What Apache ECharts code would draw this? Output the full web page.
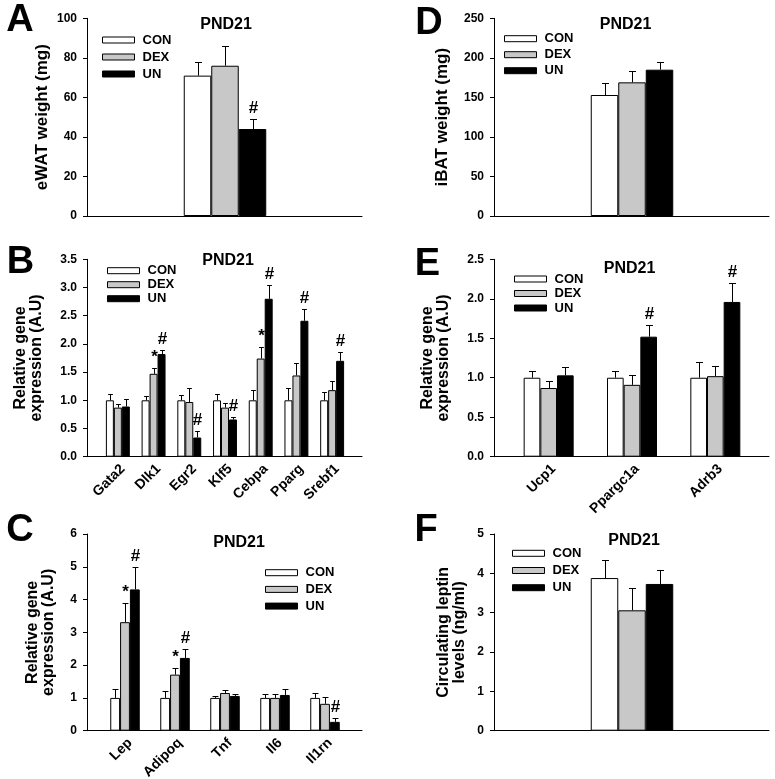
<!DOCTYPE html>
<html><head><meta charset="utf-8">
<script src="https://cdn.jsdelivr.net/npm/echarts@6/dist/echarts.min.js"></script>
<style>html,body{margin:0;padding:0;background:#fff}#c{width:775px;height:779px}</style>
</head><body><div id="c"></div>
<script>
const groups = ['CON', 'DEX', 'UN'];
const groupColors = ['#ffffff', '#c8c8c8', '#000000'];

// Panel A: eWAT weight (mg)
const catsA = ['eWAT'];
const aCon = [71], aDex = [76], aUn = [44];
const aConSem = [7], aDexSem = [10], aUnSem = [5];
const aSigCon = [''], aSigDex = [''], aSigUn = ['#'];
const ticksA = [0, 20, 40, 60, 80, 100];

// Panel D: iBAT weight (mg)
const catsD = ['iBAT'];
const dCon = [153], dDex = [169], dUn = [185];
const dConSem = [15], dDexSem = [14], dUnSem = [10];
const dSigCon = [''], dSigDex = [''], dSigUn = [''];
const ticksD = [0, 50, 100, 150, 200, 250];

// Panel B: adipogenic genes
const catsB = ['Gata2', 'Dlk1', 'Egr2', 'Klf5', 'Cebpa', 'Pparg', 'Srebf1'];
const bCon = [1.00, 1.00, 1.00, 1.00, 1.00, 1.00, 1.00];
const bDex = [0.87, 1.47, 0.97, 0.87, 1.74, 1.44, 1.18];
const bUn  = [0.89, 1.82, 0.34, 0.66, 2.80, 2.41, 1.70];
const bConSem = [0.11, 0.08, 0.10, 0.11, 0.18, 0.21, 0.14];
const bDexSem = [0.06, 0.11, 0.24, 0.08, 0.20, 0.23, 0.17];
const bUnSem  = [0.14, 0.08, 0.12, 0.04, 0.24, 0.20, 0.16];
const bSigCon = ['', '', '', '', '', '', ''];
const bSigDex = ['', '*', '', '', '*', '', ''];
const bSigUn  = ['', '#', '#', '#', '#', '#', '#'];
const ticksB = [0.0, 0.5, 1.0, 1.5, 2.0, 2.5, 3.0, 3.5];

// Panel E: thermogenic genes
const catsE = ['Ucp1', 'Ppargc1a', 'Adrb3'];
const eCon = [1.00, 1.00, 1.00];
const eDex = [0.87, 0.91, 1.02];
const eUn  = [1.03, 1.52, 1.96];
const eConSem = [0.08, 0.08, 0.20];
const eDexSem = [0.09, 0.13, 0.13];
const eUnSem  = [0.11, 0.15, 0.24];
const eSigCon = ['', '', ''];
const eSigDex = ['', '', ''];
const eSigUn  = ['', '#', '#'];
const ticksE = [0.0, 0.5, 1.0, 1.5, 2.0, 2.5];

// Panel C: adipokines
const catsC = ['Lep', 'Adipoq', 'Tnf', 'Il6', 'Il1rn'];
const cCon = [1.00, 1.00, 1.00, 1.00, 1.00];
const cDex = [3.31, 1.71, 1.15, 1.00, 0.82];
const cUn  = [4.31, 2.22, 1.06, 1.09, 0.27];
const cConSem = [0.28, 0.21, 0.07, 0.11, 0.15];
const cDexSem = [0.60, 0.20, 0.08, 0.11, 0.20];
const cUnSem  = [0.69, 0.28, 0.05, 0.17, 0.11];
const cSigCon = ['', '', '', '', ''];
const cSigDex = ['*', '*', '', '', ''];
const cSigUn  = ['#', '#', '', '', '#'];
const ticksC = [0, 1, 2, 3, 4, 5, 6];

// Panel F: circulating leptin (ng/ml)
const catsF = ['Leptin'];
const fCon = [3.88], fDex = [3.06], fUn = [3.73];
const fConSem = [0.46], fDexSem = [0.56], fUnSem = [0.35];
const fSigCon = [''], fSigDex = [''], fSigUn = [''];
const ticksF = [0, 1, 2, 3, 4, 5];

const FONT = 'Liberation Sans, Arial, sans-serif';

const panels = [
  { letter: 'A', cats: catsA, means: [aCon, aDex, aUn], sems: [aConSem, aDexSem, aUnSem], sigs: [aSigCon, aSigDex, aSigUn], ticks: ticksA, dec: 0,
    yName: 'eWAT weight (mg)', nameGap: 37, nameSize: 17, left: 87, top: 18.3, height: 197.7, gap: 0.67, xLabels: false,
    legend: [102, 33, 3], title: [226, 25], letterPos: [20, 21] },
  { letter: 'D', cats: catsD, means: [dCon, dDex, dUn], sems: [dConSem, dDexSem, dUnSem], sigs: [dSigCon, dSigDex, dSigUn], ticks: ticksD, dec: 0,
    yName: 'iBAT weight (mg)', nameGap: 44, nameSize: 17, left: 494, top: 18.3, height: 197.7, gap: 0.67, xLabels: false,
    legend: [504, 31.7, 2], title: [625.5, 25], letterPos: [429, 23.5] },
  { letter: 'B', cats: catsB, means: [bCon, bDex, bUn], sems: [bConSem, bDexSem, bUnSem], sigs: [bSigCon, bSigDex, bSigUn], ticks: ticksB, dec: 1,
    yName: 'Relative gene\nexpression (A.U)', nameGap: 42, nameSize: 16, left: 87, top: 259.3, height: 197.4, gap: 0.33, xLabels: true,
    legend: [107, 263.7, 0], title: [228, 260.5], letterPos: [20.5, 262.5] },
  { letter: 'E', cats: catsE, means: [eCon, eDex, eUn], sems: [eConSem, eDexSem, eUnSem], sigs: [eSigCon, eSigDex, eSigUn], ticks: ticksE, dec: 1,
    yName: 'Relative gene\nexpression (A.U)', nameGap: 42, nameSize: 16, left: 494, top: 259.3, height: 197.4, gap: 0.40, xLabels: true,
    legend: [514, 272, 0.5], title: [629.5, 268.5], letterPos: [427.5, 264.5] },
  { letter: 'C', cats: catsC, means: [cCon, cDex, cUn], sems: [cConSem, cDexSem, cUnSem], sigs: [cSigCon, cSigDex, cSigUn], ticks: ticksC, dec: 0,
    yName: 'Relative gene\nexpression (A.U)', nameGap: 30, nameSize: 16, left: 87, top: 534, height: 196.7, gap: 0.41, xLabels: true,
    legend: [265, 565.7, 2.7], title: [239, 543], letterPos: [20, 530.5] },
  { letter: 'F', cats: catsF, means: [fCon, fDex, fUn], sems: [fConSem, fDexSem, fUnSem], sigs: [fSigCon, fSigDex, fSigUn], ticks: ticksF, dec: 0,
    yName: 'Circulating leptin\nlevels (ng/ml)', nameGap: 26, nameSize: 16, left: 494, top: 534, height: 196.7, gap: 0.67, xLabels: false,
    legend: [512, 546.3, 3.2], title: [634, 541], letterPos: [426, 530.5] }
];

const option = {
  animation: false,
  textStyle: { fontFamily: FONT },
  grid: [], xAxis: [], yAxis: [], series: [], legend: [], graphic: []
};

panels.forEach((p, k) => {
  const fi = 2 * k, di = 2 * k + 1;
  const ymin = p.ticks[0], ymax = p.ticks[p.ticks.length - 1], step = p.ticks[1] - p.ticks[0];
  option.grid.push({ left: p.left, top: p.top, width: 275, height: p.height, outerBoundsMode: 'none', containLabel: false });
  option.grid.push({ left: p.left + 13, top: p.top, width: 250, height: p.height, outerBoundsMode: 'none', containLabel: false });
  option.xAxis.push({ gridIndex: fi, type: 'value', min: 0, max: 1, axisLine: { show: true, lineStyle: { color: '#000', width: 1 } },
    axisTick: { show: false }, axisLabel: { show: false }, splitLine: { show: false } });
  option.yAxis.push({ gridIndex: fi, type: 'value', min: ymin, max: ymax, interval: step,
    axisLine: { show: true, lineStyle: { color: '#000', width: 1 } },
    axisTick: { show: true, inside: false, length: 4, lineStyle: { color: '#000' } },
    axisLabel: { margin: 10, fontSize: 12, fontWeight: 'bold', color: '#000', fontFamily: FONT,
      formatter: v => Number(v).toFixed(p.dec) },
    splitLine: { show: false },
    name: p.yName, nameLocation: 'middle', nameRotate: 90, nameGap: p.nameGap, nameMoveOverlap: false,
    nameTextStyle: { fontSize: p.nameSize, fontWeight: 'bold', color: '#000', fontFamily: FONT, lineHeight: 16 } });
  option.xAxis.push({ gridIndex: di, type: 'category', data: p.cats,
    axisLine: { show: false }, axisTick: { show: false }, splitLine: { show: false },
    axisLabel: p.xLabels ? { show: true, rotate: 45, margin: 5, interval: 0, verticalAlign: 'top', fontSize: 14, fontWeight: 'bold', color: '#000', fontFamily: FONT } : { show: false } });
  option.yAxis.push({ gridIndex: di, type: 'value', min: ymin, max: ymax, interval: step, show: false });

  for (let g = 0; g < 3; g++) {
    option.series.push({ type: 'bar', name: groups[g], xAxisIndex: di, yAxisIndex: di, data: p.means[g],
      barGap: '0%', barCategoryGap: (p.gap * 100) + '%',
      itemStyle: { color: groupColors[g], borderColor: '#000', borderWidth: 1 }, z: 2 });
  }
  const errData = [], errSig = [];
  for (let g = 0; g < 3; g++) {
    p.means[g].forEach((m, i) => {
      errData.push([i, m, m + p.sems[g][i], g]);
      errSig.push(p.sigs[g][i]);
    });
  }
  const gap = p.gap;
  option.series.push({ type: 'custom', name: 'err' + p.letter, xAxisIndex: di, yAxisIndex: di, z: 3, data: errData,
    renderItem: function (params, api) {
      const i = api.value(0), m = api.value(1), t = api.value(2), g = api.value(3);
      const base = api.coord([i, m]);
      const top = api.coord([i, t]);
      const band = api.size([1, 0])[0];
      const bw = band * (1 - gap) / 3;
      const x = Math.round(base[0] + (g - 1) * bw) + 0.5;
      const hw = Math.min(3.5, bw * 0.3);
      const ty = Math.round(top[1]) + 0.5;
      const children = [
        { type: 'line', shape: { x1: x, y1: base[1], x2: x, y2: ty }, style: { stroke: '#000', lineWidth: 1 } },
        { type: 'line', shape: { x1: x - hw, y1: ty, x2: x + hw, y2: ty }, style: { stroke: '#000', lineWidth: 1 } }
      ];
      const s = errSig[params.dataIndex];
      if (s) {
        children.push({ type: 'text', x: x, y: ty - 3,
          style: { text: s, align: 'center', verticalAlign: 'bottom', fontSize: 17, fontWeight: 'bold', fill: '#000', fontFamily: FONT } });
      }
      return { type: 'group', children: children };
    }
  });

  option.legend.push({ left: p.legend[0], top: p.legend[1], orient: 'vertical', itemGap: p.legend[2],
    data: groups, icon: 'rect', itemWidth: 32, itemHeight: 6, selectedMode: false, padding: 0,
    itemStyle: { borderColor: '#000', borderWidth: 1 },
    textStyle: { fontSize: 13, fontWeight: 'bold', color: '#000', fontFamily: FONT, lineHeight: 14, padding: [0, 0, 0, 3] } });

  option.graphic.push({ type: 'text', x: p.title[0], y: p.title[1],
    style: { text: 'PND21', align: 'center', verticalAlign: 'middle', fontSize: 16, fontWeight: 'bold', fill: '#000', fontFamily: FONT } });
  option.graphic.push({ type: 'text', x: p.letterPos[0], y: p.letterPos[1],
    style: { text: p.letter, align: 'center', verticalAlign: 'middle', fontSize: 38, fontWeight: 'bold', fill: '#000', fontFamily: FONT } });
});

const chart = echarts.init(document.getElementById('c'), null, { renderer: 'canvas' });
chart.setOption(option);
</script>
</body></html>
